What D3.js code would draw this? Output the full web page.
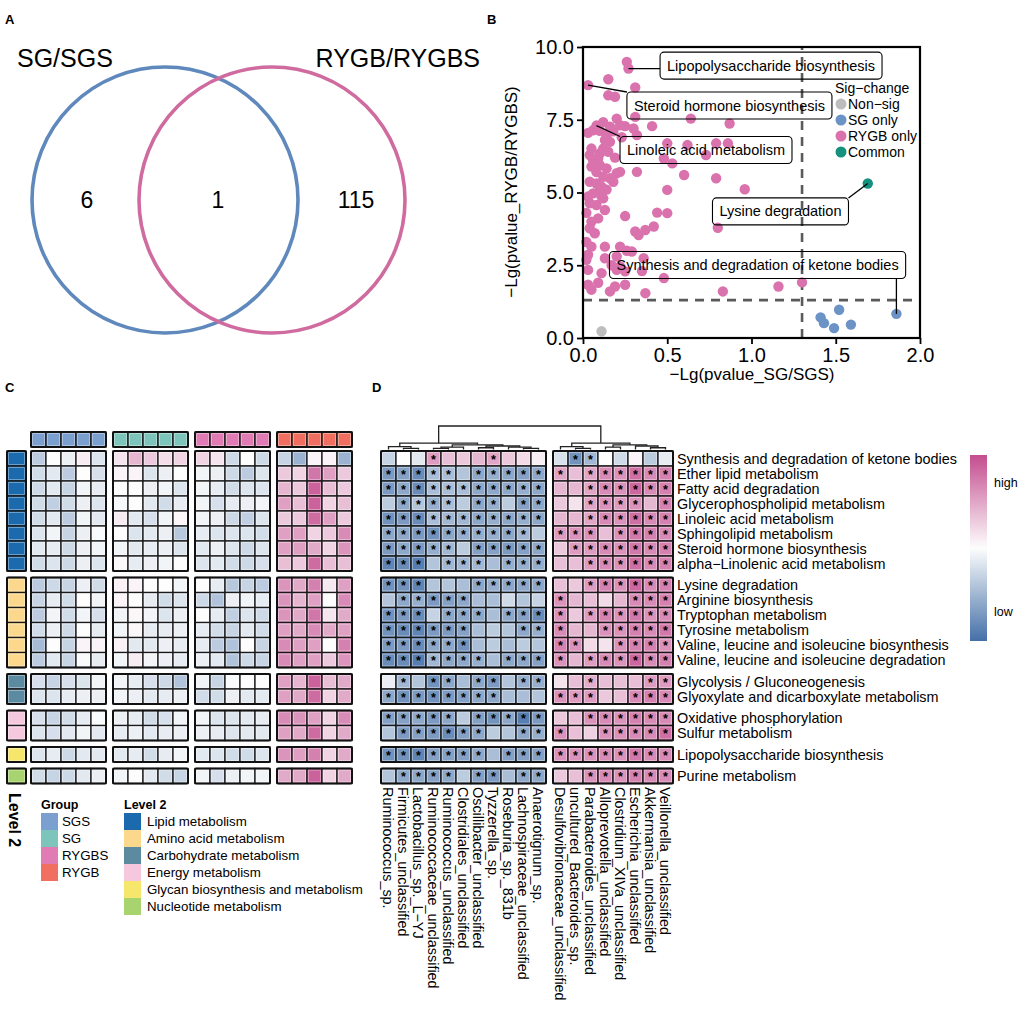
<!DOCTYPE html>
<html><head><meta charset="utf-8">
<script src="https://cdn.jsdelivr.net/npm/d3@7"></script>
<style>
body{margin:0;background:#fff}
text{font-family:"Liberation Sans",Arial,Helvetica,sans-serif;fill:#000}
</style>
</head><body>
<svg id="c" width="1021" height="1011"></svg>
<script>
// ================= DATA =================
// Panel A
const vennSets = ["SG/SGS", "RYGB/RYGBS"];
const vennCounts = [6, 1, 115];
const vennColors = ["#5f88bc", "#cf6b9f"];

// Panel B
const sigGroups = ["Non\u2212sig", "SG only", "RYGB only", "Common"];
const sigColors = ["#bdbdbd", "#6c93c6", "#da73ad", "#16917d"];
const nonSigPts = [[0.11, 0.23]];
const sgOnlyPts = [[1.41,0.71],[1.43,0.51],[1.49,0.34],[1.52,0.97],[1.59,0.46],[1.86,0.83]];
const commonPts = [[1.69, 5.31]];
const rygbOnlyPts = [
 [0.26,9.49],[0.27,9.26],[0.15,8.89],[0.03,8.69],[0.31,8.61],[0.15,8.34],[0.19,8.29],
 [0.20,7.54],[0.31,7.60],[0.16,7.26],[0.22,7.31],[0.25,7.28],[0.30,7.20],[0.41,7.28],
 [0.06,7.14],[0.10,7.12],[0.03,7.05],[0.32,6.97],[0.14,6.97],[0.13,6.80],[0.16,6.74],
 [0.12,6.51],[0.05,6.51],[0.10,6.34],[0.15,6.40],[0.04,6.29],[0.09,6.17],[0.06,6.11],
 [0.10,5.94],[0.05,5.89],[0.14,5.83],[0.20,5.66],[0.22,5.71],[0.32,5.71],[0.12,5.54],
 [0.16,5.49],[0.18,5.37],[0.08,5.31],[0.04,5.37],[0.11,5.20],[0.10,5.09],[0.06,4.97],
 [0.03,4.86],[0.11,4.86],[0.04,4.63],[0.08,4.57],[0.13,4.40],[0.09,4.11],[0.05,4.00],
 [0.04,3.77],[0.25,4.19],[0.31,3.66],[0.33,3.54],[0.37,3.71],[0.42,3.83],[0.44,4.31],
 [0.50,4.29],[0.05,3.14],[0.13,3.14],[0.22,3.14],[0.29,2.97],[0.03,2.86],[0.13,2.74],
 [0.20,2.80],[0.36,2.74],[0.02,2.69],[0.03,2.34],[0.11,2.23],[0.20,2.34],[0.25,2.29],
 [0.22,2.46],[0.03,1.83],[0.05,1.66],[0.16,1.60],[0.19,1.77],[0.25,1.83],[0.37,1.54],
 [0.48,2.06],[0.50,6.69],[0.62,6.63],[0.79,6.69],[0.86,6.69],[0.73,6.29],[0.48,6.17],
 [0.53,6.00],[0.60,5.60],[0.79,5.49],[0.50,5.09],[0.96,5.11],[0.80,3.79],[0.64,7.54],
 [0.87,7.37],[0.83,1.60],[1.16,1.77],[1.30,1.91],[0.08,7.30],[0.12,7.42],[0.18,7.10],
 [0.23,6.90],[0.08,5.70],[0.14,5.10],[0.02,4.30],[0.07,3.60],[0.02,3.30],[0.17,2.50],
 [0.09,1.90],[0.35,2.30],[0.26,3.00],[0.12,4.80],[0.19,6.20]
];
const labelNames = ["Lipopolysaccharide biosynthesis","Steroid hormone biosynthesis","Linoleic acid metabolism","Lysine degradation","Synthesis and degradation of ketone bodies"];
const labelPoints = [[0.27,9.26],[0.03,8.69],[0.08,7.30],[1.69,5.31],[1.86,0.83]];
const labelAt = [[1.116,9.36],[0.869,7.99],[0.73,6.46],[1.172,4.35],[1.036,2.51]];
const xTicksB = [0, 0.5, 1, 1.5, 2];
const yTicksB = [0, 2.5, 5, 7.5, 10];
const cutoff = 1.3;

// Panels C & D
const pathways = ["Synthesis and degradation of ketone bodies","Ether lipid metabolism","Fatty acid degradation","Glycerophospholipid metabolism","Linoleic acid metabolism","Sphingolipid metabolism","Steroid hormone biosynthesis","alpha\u2212Linolenic acid metabolism",
 "Lysine degradation","Arginine biosynthesis","Tryptophan metabolism","Tyrosine metabolism","Valine, leucine and isoleucine biosynthesis","Valine, leucine and isoleucine degradation",
 "Glycolysis / Gluconeogenesis","Glyoxylate and dicarboxylate metabolism",
 "Oxidative phosphorylation","Sulfur metabolism",
 "Lipopolysaccharide biosynthesis",
 "Purine metabolism"];
const level2 = ["Lipid metabolism","Amino acid metabolism","Carbohydrate metabolism","Energy metabolism","Glycan biosynthesis and metabolism","Nucleotide metabolism"];
const level2Sizes = [8, 6, 2, 2, 1, 1];
const level2Colors = ["#1b6aae","#fbd88c","#5b8aa1","#f5c8de","#f6e76c","#a7d46f"];
const groups = ["SGS","SG","RYGBS","RYGB"];
const groupColors = ["#7b9fcf","#7dc4bb","#e07bb4","#f06f60"];

const cVals = [
 [-0.3,0,-0.08,0.08,-0.15, 0.12,0.35,0.25,0.15,0.2, 0.2,0.12,-0.22,0,-0.22, -0.25,-0.45,0.05,0.05,-0.45],
 [-0.2,-0.12,-0.3,0,-0.18, 0.05,0.05,-0.15,-0.08,0, -0.05,-0.08,-0.22,-0.3,-0.15, 0.25,0.2,0.65,0.45,0.25],
 [-0.22,-0.12,-0.25,-0.05,-0.1, 0,0,-0.08,-0.05,-0.15, -0.05,-0.1,-0.2,-0.15,-0.15, 0.35,0.25,0.75,0.3,0.25],
 [-0.2,-0.28,-0.2,-0.08,-0.15, -0.03,0,-0.12,-0.2,-0.1, -0.05,-0.18,-0.1,-0.08,-0.05, 0.45,0.3,0.75,0.2,0.3],
 [-0.2,-0.12,-0.3,-0.05,-0.12, 0.08,-0.12,-0.18,-0.05,0.03, -0.05,-0.08,-0.22,-0.28,-0.15, 0.25,0.25,0.7,0.45,0.25],
 [-0.15,-0.05,-0.25,-0.08,-0.02, 0,-0.15,-0.12,-0.08,-0.32, -0.1,-0.15,-0.15,-0.15,-0.2, 0.45,0.45,0.2,0.25,0.55],
 [-0.12,-0.1,-0.22,-0.08,-0.05, -0.05,-0.12,-0.1,-0.08,-0.15, -0.12,-0.08,-0.15,-0.22,-0.15, 0.45,0.45,0.4,0.2,0.5],
 [-0.2,-0.15,-0.22,-0.08,-0.15, 0.02,-0.1,-0.08,-0.05,0, -0.15,-0.12,-0.2,-0.22,-0.18, 0.3,0.25,0.7,0.3,0.3],
 [-0.3,-0.22,-0.25,-0.08,-0.2, 0.06,0.05,0,0,-0.05, 0,-0.1,-0.32,-0.25,-0.3, 0.5,0.4,0.6,0.1,0.45],
 [-0.25,-0.1,-0.2,0,-0.05, 0.05,0,-0.1,-0.2,-0.15, -0.22,-0.35,-0.08,-0.05,-0.1, 0.5,0.35,0.45,0,0.55],
 [-0.3,-0.05,-0.2,-0.05,-0.18, -0.05,0.03,-0.05,-0.15,-0.08, 0,-0.1,-0.28,-0.15,-0.22, 0.5,0.4,0.65,0.12,0.4],
 [-0.2,-0.08,-0.22,0,-0.1, -0.05,0.03,-0.1,-0.1,-0.08, -0.1,-0.2,-0.25,-0.12,-0.2, 0.45,0.4,0.55,0.4,0.45],
 [-0.4,0,-0.25,0.05,0.05, 0.06,-0.12,-0.12,-0.08,-0.1, -0.1,-0.3,-0.35,0,-0.25, 0.55,0.45,0.45,0,0.6],
 [-0.3,-0.12,-0.25,-0.02,-0.1, -0.05,0.08,-0.05,-0.08,-0.1, -0.08,-0.12,-0.35,-0.22,-0.25, 0.55,0.45,0.45,0.25,0.5],
 [-0.18,-0.25,-0.18,-0.15,-0.05, -0.05,-0.1,-0.18,-0.22,-0.35, -0.05,-0.25,-0.02,0,0, 0.45,0.35,0.75,0.3,0.4],
 [-0.15,-0.15,-0.1,-0.08,-0.08, -0.05,-0.08,-0.12,-0.1,-0.08, -0.2,-0.2,-0.08,-0.12,-0.12, 0.45,0.4,0.7,0.2,0.4],
 [-0.18,-0.25,-0.2,-0.1,-0.02, -0.08,-0.1,-0.2,-0.18,-0.05, -0.05,-0.15,-0.15,-0.12,-0.1, 0.55,0.5,0.45,0.2,0.55],
 [-0.15,-0.18,-0.12,-0.05,-0.12, -0.1,-0.08,-0.12,-0.1,-0.08, -0.08,-0.1,-0.15,-0.12,-0.12, 0.45,0.4,0.7,0.2,0.4],
 [-0.15,-0.1,-0.22,-0.12,-0.12, -0.12,-0.1,-0.2,-0.1,-0.05, -0.12,-0.15,-0.2,-0.2,-0.15, 0.5,0.45,0.6,0.2,0.4],
 [-0.2,-0.25,-0.22,-0.12,-0.08, -0.05,0,-0.12,-0.2,-0.25, -0.05,-0.18,-0.08,-0.05,-0.05, 0.4,0.4,0.75,0.2,0.4]
];

const speciesLeft = ["Ruminococcus_sp.","Firmicutes_unclassified","Lactobacillus_sp._L\u2212YJ","Ruminococcaceae_unclassified","Ruminococcus_unclassified","Clostridiales_unclassified","Oscillibacter_unclassified","Tyzzerella_sp.","Roseburia_sp._831b","Lachnospiraceae_unclassified","Anaerotignum_sp."];
const speciesRight = ["Desulfovibrionaceae_unclassified","uncultured_Bacteroides_sp.","Parabacteroides_unclassified","Alloprevotella_unclassified","Clostridium_XIVa_unclassified","Escherichia_unclassified","Akkermansia_unclassified","Veillonella_unclassified"];

const dLeft = [
 [-0.3,0,-0.15,0.55,0.35,0.3,0.4,0.5,0.3,0.2,0.08],
 [-0.7,-0.65,-0.8,-0.45,-0.45,-0.4,-0.6,-0.55,-0.6,-0.65,-0.6],
 [-0.7,-0.6,-0.8,-0.45,-0.45,-0.45,-0.6,-0.6,-0.6,-0.55,-0.6],
 [-0.35,-0.6,-0.4,-0.55,-0.45,-0.35,-0.6,-0.55,-0.35,-0.65,-0.6],
 [-0.75,-0.7,-0.8,-0.45,-0.5,-0.5,-0.6,-0.55,-0.6,-0.55,-0.6],
 [-0.6,-0.6,-0.7,-0.75,-0.6,-0.55,-0.55,-0.55,-0.6,-0.5,-0.35],
 [-0.7,-0.6,-0.7,-0.55,-0.5,-0.35,-0.65,-0.65,-0.7,-0.65,-0.6],
 [-0.85,-0.8,-0.9,-0.4,-0.5,-0.5,-0.5,-0.45,-0.55,-0.55,-0.55],
 [-0.75,-0.75,-0.85,-0.4,-0.4,-0.45,-0.6,-0.55,-0.6,-0.6,-0.6],
 [-0.4,-0.6,-0.55,-0.7,-0.65,-0.6,-0.45,-0.45,-0.25,-0.4,-0.3],
 [-0.75,-0.7,-0.8,-0.3,-0.6,-0.6,-0.6,-0.45,-0.6,-0.65,-0.8],
 [-0.75,-0.8,-0.85,-0.7,-0.7,-0.65,-0.45,-0.35,-0.4,-0.6,-0.55],
 [-0.7,-0.7,-0.8,-0.6,-0.6,-0.75,-0.45,-0.35,-0.45,-0.35,-0.4],
 [-0.8,-0.8,-0.9,-0.5,-0.6,-0.6,-0.55,-0.45,-0.6,-0.6,-0.65],
 [-0.1,-0.5,-0.4,-0.75,-0.6,-0.45,-0.6,-0.7,-0.4,-0.55,-0.55],
 [-0.6,-0.75,-0.7,-0.75,-0.7,-0.65,-0.6,-0.6,-0.45,-0.45,-0.4],
 [-0.65,-0.65,-0.6,-0.7,-0.6,-0.35,-0.65,-0.75,-0.6,-0.9,-0.7],
 [-0.4,-0.7,-0.65,-0.7,-0.8,-0.65,-0.6,-0.35,-0.4,-0.6,-0.55],
 [-0.75,-0.75,-0.85,-0.65,-0.65,-0.65,-0.6,-0.45,-0.65,-0.65,-0.65],
 [-0.4,-0.6,-0.6,-0.65,-0.6,-0.35,-0.65,-0.7,-0.45,-0.6,-0.6]
];
const dLeftStars = ["00010001000","11111011111","11111111111","01111011011","11111111111","11111111110","11111011111","11101110111",
 "11100011111","01111100000","11101110111","11111100011","11111100000","11111110111","01011011011","11111111000","11111011111","01111110011","11111110111","01111011011"];
const dRight = [
 [-0.2,-0.75,-0.5,0,-0.25,0.05,-0.35,-0.12],
 [0.5,0.35,0.5,0.65,0.6,0.8,0.65,0.7],
 [0.4,0.4,0.5,0.65,0.6,0.85,0.65,0.7],
 [0.3,0.15,0.5,0.6,0.55,0.6,0.4,0.7],
 [0.4,0.4,0.5,0.65,0.6,0.8,0.65,0.7],
 [0.55,0.6,0.6,0.35,0.6,0.75,0.7,0.65],
 [0.3,0.55,0.55,0.65,0.6,0.75,0.65,0.7],
 [0.35,0.35,0.55,0.65,0.6,0.8,0.65,0.7],
 [0.35,0.3,0.55,0.7,0.6,0.85,0.65,0.7],
 [0.6,0.4,0.35,0.2,0.4,0.65,0.65,0.7],
 [0.6,0.3,0.55,0.7,0.6,0.75,0.6,0.65],
 [0.65,0.4,0.4,0.6,0.6,0.7,0.65,0.75],
 [0.7,0.6,0.2,0.15,0.6,0.7,0.7,0.6],
 [0.6,0.4,0.55,0.65,0.6,0.85,0.65,0.7],
 [0.15,0.35,0.45,0.35,0.35,0.35,0.55,0.55],
 [0.6,0.55,0.55,0.3,0.35,0.65,0.7,0.65],
 [0.3,0.35,0.6,0.65,0.6,0.7,0.65,0.65],
 [0.6,0.35,0.25,0.6,0.6,0.65,0.65,0.8],
 [0.6,0.6,0.6,0.65,0.6,0.75,0.65,0.65],
 [0.3,0.35,0.6,0.65,0.6,0.7,0.65,0.65]
];
const dRightStars = ["01100000","10111111","00111111","00111101","00111111","11101111","01111111","00111111",
 "00111111","10000111","10111111","10011111","11001111","10111111","00100011","11100111","00111111","10011111","11111111","00111111"];
// dendrograms: [height, left, right]; leaves are column indices
const dendLeft = [0.55, [0.25, 0, [0.1, 1, 2]], [0.4, [0.2, [0.1, 3, 4], 5], [0.3, [0.15, 6, 7], [0.2, 8, [0.1, 9, 10]]]]];
const dendRight = [0.55, [0.25, 0, [0.1, 1, 2]], [0.4, [0.2, 3, 4], [0.3, 5, [0.15, 6, 7]]]];
const dendRootHeight = 2;
const scaleLabels = ["high", "low"];

// ================= DRAW =================
const svg = d3.select("#c");
svg.append("rect").attr("width",1021).attr("height",1011).attr("fill","#fff");

function panelLabel(t, x, y){ svg.append("text").attr("x",x).attr("y",y).attr("font-size",13).attr("font-weight","bold").text(t); }
panelLabel("A", 5, 24); panelLabel("B", 487, 24); panelLabel("C", 5, 392); panelLabel("D", 372, 392);

// ---- Panel A: Venn ----
{
  const g = svg.append("g");
  const cx = [165, 272], cy = 200, r = 133;
  cx.forEach((x,i)=> g.append("circle").attr("cx",x).attr("cy",cy).attr("r",r)
     .attr("fill","none").attr("stroke",vennColors[i]).attr("stroke-width",3.6));
  g.append("text").attr("x",17).attr("y",67).attr("font-size",25).text(vennSets[0]);
  g.append("text").attr("x",480).attr("y",67).attr("font-size",25).attr("text-anchor","end").text(vennSets[1]);
  const nx = [87, 218, 356];
  vennCounts.forEach((v,i)=> g.append("text").attr("x",nx[i]).attr("y",208).attr("font-size",23)
     .attr("text-anchor","middle").text(v));
}

// ---- Panel B: scatter ----
{
  const g = svg.append("g");
  const x = d3.scaleLinear().domain([0,2]).range([583,920]);
  const y = d3.scaleLinear().domain([0,10]).range([338,47]);
  g.append("line").attr("x1",x(cutoff)).attr("x2",x(cutoff)).attr("y1",y(0)).attr("y2",y(10))
    .attr("stroke","#5a5a5a").attr("stroke-width",2.6).attr("stroke-dasharray","9,7");
  g.append("line").attr("x1",x(0)).attr("x2",x(2)).attr("y1",y(cutoff)).attr("y2",y(cutoff))
    .attr("stroke","#5a5a5a").attr("stroke-width",2.6).attr("stroke-dasharray","9,7");
  const sets = [nonSigPts, sgOnlyPts, rygbOnlyPts, commonPts];
  sets.forEach((pts,i)=>{
    g.selectAll(null).data(pts).enter().append("circle")
      .attr("cx",d=>x(d[0])).attr("cy",d=>y(d[1])).attr("r",5.2).attr("fill",sigColors[i]);
  });
  labelNames.forEach((name,i)=>{
    const cxL = x(labelAt[i][0]), cyL = y(labelAt[i][1]);
    const t = g.append("text").attr("x",cxL).attr("y",cyL).attr("dy","0.35em").attr("text-anchor","middle")
      .attr("font-size",14.5).text(name);
    const bb = t.node().getBBox();
    const w = bb.width + 14, h = 27;
    const x0 = cxL - w/2, y0 = cyL - h/2;
    const px = x(labelPoints[i][0]), py = y(labelPoints[i][1]);
    const ex = Math.max(x0, Math.min(px, x0+w)), ey = Math.max(y0, Math.min(py, y0+h));
    g.insert("line","text").attr("x1",px).attr("y1",py).attr("x2",ex).attr("y2",ey)
      .attr("stroke","#000").attr("stroke-width",1.3);
    g.insert("rect","text").attr("x",x0).attr("y",y0).attr("width",w).attr("height",h).attr("rx",4)
      .attr("fill","none").attr("stroke","#000").attr("stroke-width",1.1);
  });
  g.append("rect").attr("x",583).attr("y",47).attr("width",337).attr("height",291)
    .attr("fill","none").attr("stroke","#000").attr("stroke-width",2.2);
  const ax = g.append("g").attr("transform",`translate(0,338)`)
    .call(d3.axisBottom(x).tickValues(xTicksB).tickFormat(d3.format(".1f")).tickSize(6).tickPadding(4));
  const ay = g.append("g").attr("transform",`translate(583,0)`)
    .call(d3.axisLeft(y).tickValues(yTicksB).tickFormat(d3.format(".1f")).tickSize(6).tickPadding(3));
  [ax,ay].forEach(a=>{
    a.select(".domain").remove();
    a.selectAll("line").attr("stroke","#000").attr("stroke-width",1.8);
    a.selectAll("text").attr("font-size",20).attr("fill","#000")
      .attr("font-family",'"Liberation Sans",Arial,sans-serif');
  });
  g.append("text").attr("x",752).attr("y",380).attr("text-anchor","middle").attr("font-size",17)
    .text("\u2212Lg(pvalue_SG/SGS)");
  g.append("text").attr("transform","translate(517,192) rotate(-90)").attr("text-anchor","middle")
    .attr("font-size",17).text("\u2212Lg(pvalue_RYGB/RYGBS)");
  g.append("text").attr("x",835).attr("y",93).attr("font-size",14).text("Sig\u2212change");
  sigGroups.forEach((s,i)=>{
    g.append("circle").attr("cx",841).attr("cy",104+16*i).attr("r",5.5).attr("fill",sigColors[i]);
    g.append("text").attr("x",848).attr("y",104+16*i).attr("dy","0.35em").attr("font-size",14).text(s);
  });
}

// ---- shared heatmap helpers ----
const color = d3.scaleLinear().domain([-1,0,1]).range(["#4470a8","#fdfdfd","#c44d8f"]).clamp(true);
const colorC = d3.scaleLinear().domain([-0.85,0,0.85]).range(["#4470a8","#fdfdfd","#c44d8f"]).clamp(true);
const rowStep = 15, gapRows = 6.5/15;
const groupOf = []; level2Sizes.forEach((n,gi)=>{ for(let k=0;k<n;k++) groupOf.push(gi); });
const yRow = d3.scaleLinear().domain([0,1]).range([451, 451+rowStep]);
const rowTop = i => yRow(i + groupOf[i]*gapRows);
const groupStart = []; { let s=0; level2Sizes.forEach(n=>{ groupStart.push(s); s+=n; }); }

function cell(g, x, y, w, h, fill){
  g.append("rect").attr("x",x).attr("y",y).attr("width",w).attr("height",h)
    .attr("fill",fill).attr("stroke","#1a1a1a").attr("stroke-width",1.3);
  g.append("rect").attr("x",x+1.6).attr("y",y+1.6).attr("width",w-3.2).attr("height",h-3.2)
    .attr("fill","none").attr("stroke","#fff").attr("stroke-opacity",0.45).attr("stroke-width",0.8);
}
function outline(g, x, y, w, h){
  g.append("rect").attr("x",x).attr("y",y).attr("width",w).attr("height",h).attr("rx",1.5)
    .attr("fill","none").attr("stroke","#111").attr("stroke-width",2);
}

// ---- Panel C ----
{
  const g = svg.append("g");
  const colX = d3.scaleLinear().domain([0,1]).range([31, 46]);
  const gGap = 7/15;
  const cx = (gi, j) => colX(gi*5 + j + gi*gGap);
  groups.forEach((grp, gi)=>{
    for(let j=0;j<5;j++) cell(g, cx(gi,j), 432, 15, 15, groupColors[gi]);
    outline(g, cx(gi,0), 432, 75, 15);
  });
  pathways.forEach((p,i)=> cell(g, 7, rowTop(i), 19, 15, level2Colors[groupOf[i]]));
  level2Sizes.forEach((n,gi)=> outline(g, 7, rowTop(groupStart[gi]), 19, n*15));
  cVals.forEach((row,i)=>{
    row.forEach((v,k)=>{ const gi = Math.floor(k/5), j = k%5; cell(g, cx(gi,j), rowTop(i), 15, 15, colorC(v)); });
  });
  level2Sizes.forEach((n,ri)=>{
    groups.forEach((grp,gi)=> outline(g, cx(gi,0), rowTop(groupStart[ri]), 75, n*15));
  });
  g.append("text").attr("transform","translate(15,793) rotate(90)").attr("dy","0.35em")
    .attr("font-size",16).attr("font-weight","bold").text("Level 2");
  g.append("text").attr("x",41).attr("y",809).attr("font-size",12.5).attr("font-weight","bold").text("Group");
  groups.forEach((grp,i)=>{
    g.append("rect").attr("x",41).attr("y",813+17*i).attr("width",17).attr("height",17).attr("fill",groupColors[i]);
    g.append("text").attr("x",62).attr("y",821.5+17*i).attr("dy","0.35em").attr("font-size",13.3).text(grp);
  });
  g.append("text").attr("x",124).attr("y",809).attr("font-size",12.5).attr("font-weight","bold").text("Level 2");
  level2.forEach((l,i)=>{
    g.append("rect").attr("x",124).attr("y",813+17*i).attr("width",17).attr("height",17).attr("fill",level2Colors[i]);
    g.append("text").attr("x",147).attr("y",821.5+17*i).attr("dy","0.35em").attr("font-size",13.3).text(l);
  });
}

// ---- Panel D ----
{
  const g = svg.append("g");
  const xL = d3.scaleLinear().domain([0,1]).range([381, 396]);
  const xR = d3.scaleLinear().domain([0,1]).range([553, 568]);
  dLeft.forEach((row,i)=> row.forEach((v,j)=> cell(g, xL(j), rowTop(i), 15, 15, color(v))));
  dRight.forEach((row,i)=> row.forEach((v,j)=> cell(g, xR(j), rowTop(i), 15, 15, color(v))));
  const star = (xs, stars) => stars.forEach((s,i)=> s.split("").forEach((c,j)=>{
    if(c==="1") g.append("text").attr("x",xs(j)+7.5).attr("y",rowTop(i)+12.5).attr("text-anchor","middle")
      .attr("font-size",12.5).attr("font-weight","bold").text("*");
  }));
  star(xL, dLeftStars); star(xR, dRightStars);
  level2Sizes.forEach((n,ri)=>{
    outline(g, xL(0), rowTop(groupStart[ri]), 11*15, n*15);
    outline(g, xR(0), rowTop(groupStart[ri]), 8*15, n*15);
  });
  pathways.forEach((p,i)=> g.append("text").attr("x",677).attr("y",rowTop(i)+7.5).attr("dy","0.35em")
    .attr("font-size",14.4).text(p));
  speciesLeft.forEach((s,j)=> g.append("text").attr("transform",`translate(${xL(j)+7.5},787) rotate(90)`)
    .attr("dy","0.35em").attr("font-size",14.4).text(s));
  speciesRight.forEach((s,j)=> g.append("text").attr("transform",`translate(${xR(j)+7.5},787) rotate(90)`)
    .attr("dy","0.35em").attr("font-size",14.4).text(s));
  const hY = d3.scaleLinear().domain([0, dendRootHeight]).range([449.5, 426]);
  function drawDend(node, xs){
    if(typeof node === "number") return {x: xs(node)+7.5, h: 0};
    const a = drawDend(node[1], xs), b = drawDend(node[2], xs);
    const h = node[0];
    g.append("path").attr("d",`M${a.x},${hY(a.h)}V${hY(h)}H${b.x}V${hY(b.h)}`)
      .attr("fill","none").attr("stroke","#222").attr("stroke-width",1.3);
    return {x:(a.x+b.x)/2, h};
  }
  const ra = drawDend(dendLeft, xL), rb = drawDend(dendRight, xR);
  g.append("path").attr("d",`M${ra.x},${hY(ra.h)}V${hY(dendRootHeight)}H${rb.x}V${hY(rb.h)}`)
    .attr("fill","none").attr("stroke","#222").attr("stroke-width",1.3);
  const defs = svg.append("defs");
  const lg = defs.append("linearGradient").attr("id","grad").attr("x1",0).attr("x2",0).attr("y1",0).attr("y2",1);
  d3.range(0,1.0001,0.1).forEach(t=> lg.append("stop").attr("offset",t).attr("stop-color",color(1-2*t)));
  g.append("rect").attr("x",970).attr("y",455).attr("width",17).attr("height",186).attr("fill","url(#grad)");
  g.append("text").attr("x",994).attr("y",483).attr("dy","0.35em").attr("font-size",12.5).text(scaleLabels[0]);
  g.append("text").attr("x",994).attr("y",612).attr("dy","0.35em").attr("font-size",12.5).text(scaleLabels[1]);
}
</script>
</body></html>
